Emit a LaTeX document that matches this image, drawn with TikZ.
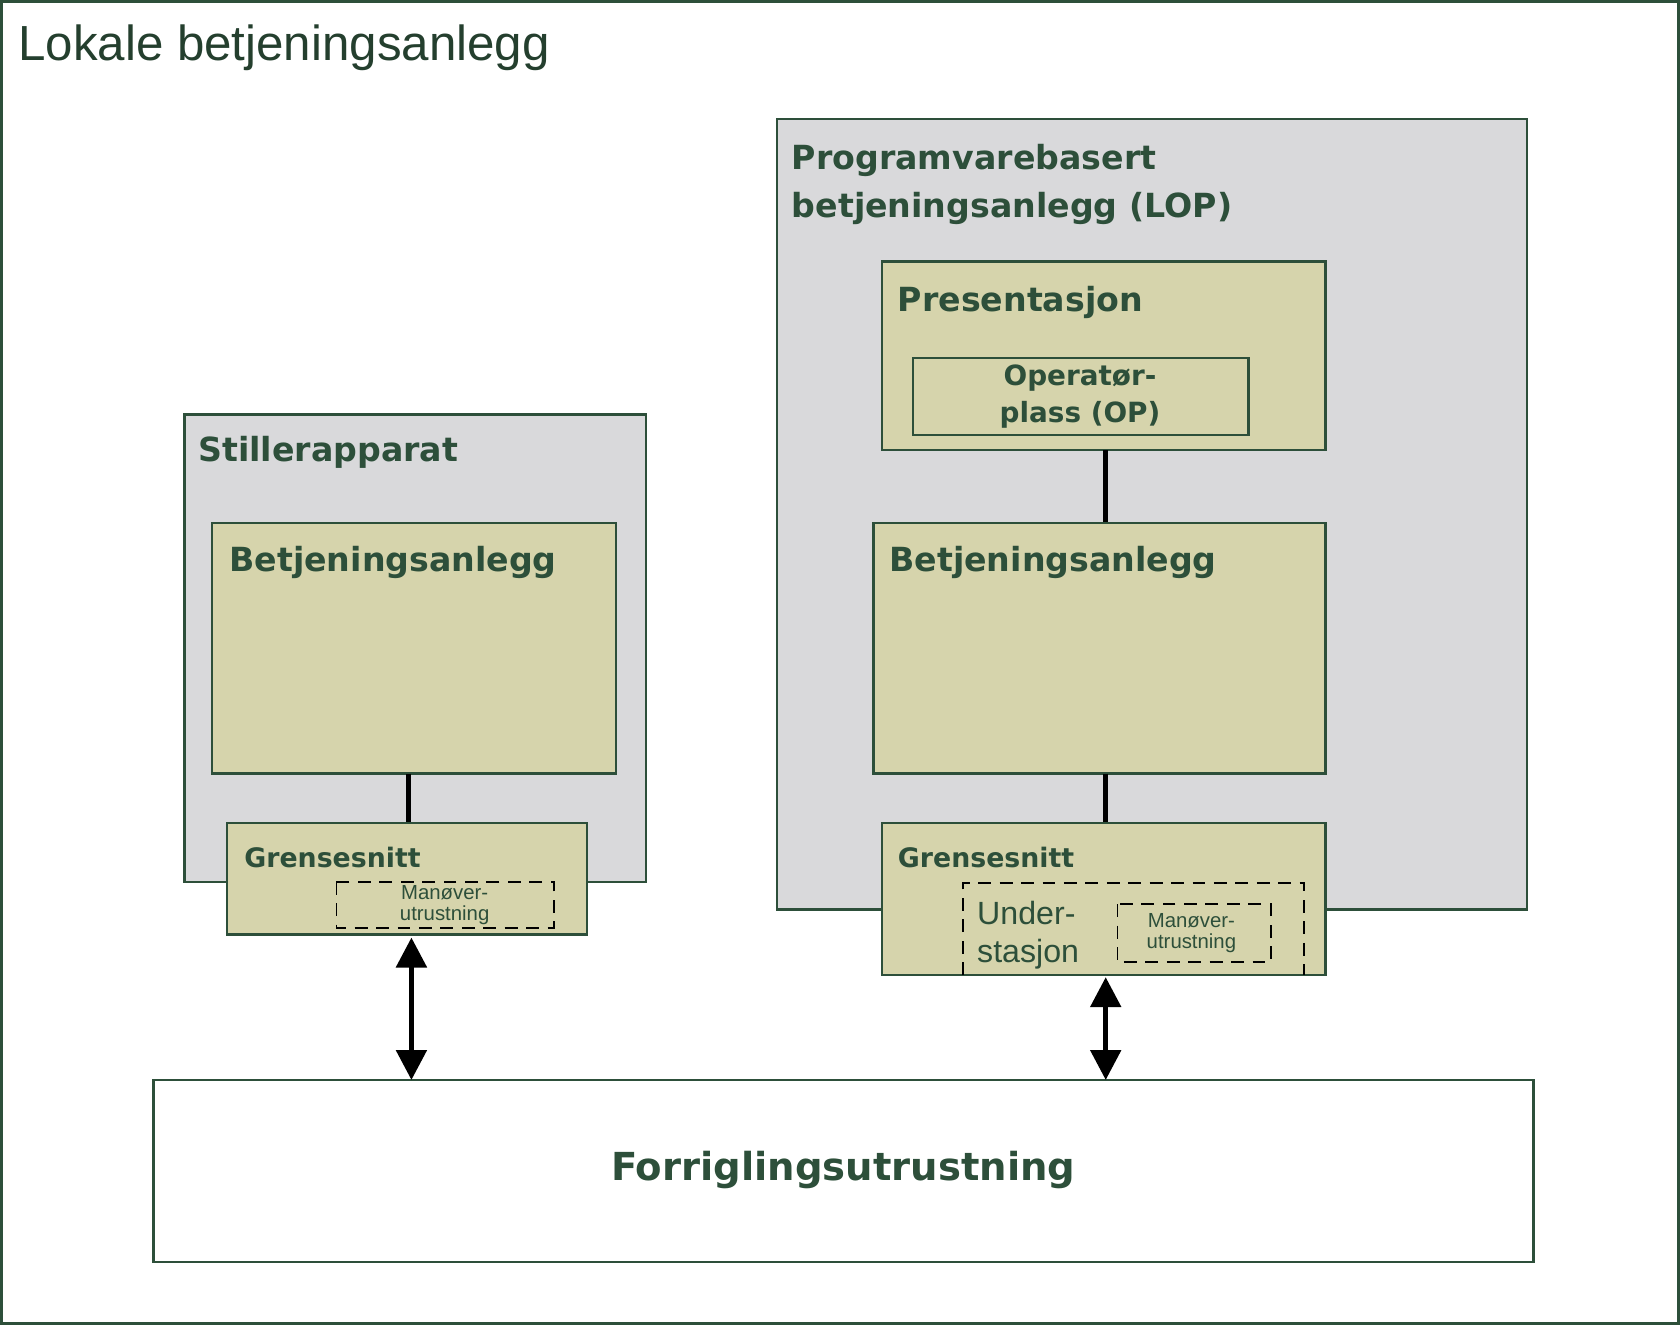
\documentclass[tikz,border=0pt]{standalone}
\usepackage{fontspec}
\setmainfont{DejaVu Sans}
\newfontfamily\arialf{Liberation Sans}
\usetikzlibrary{arrows.meta}
\definecolor{dg}{HTML}{2D4F3A}
\definecolor{gb}{HTML}{D9D9DB}
\definecolor{ol}{HTML}{D6D4AC}
\tikzset{
 box/.style={draw=dg,line width=1.2pt},
 gray/.style={box,fill=gb},
 olive/.style={box,fill=ol},
 ttl/.style={anchor=west,text=dg,font=\bfseries\fontsize{15.5}{20}\selectfont,align=left},
 dbox/.style={draw=black,dashed,dash pattern=on 6pt off 4pt,line width=0.8pt},
 small/.style={text=dg,font=\arialf\fontsize{9.5}{10}\selectfont,align=center},
 conn/.style={line width=2.5pt},
 darr/.style={line width=2.5pt,{Triangle[length=14pt,width=14pt]}-{Triangle[length=14pt,width=14pt]}}
}
\begin{document}
\begin{tikzpicture}[x=0.5pt,y=-0.5pt]
\useasboundingbox (0,0) rectangle (1568,1236);
\draw[dg,line width=1.5pt] (1,1) rectangle (1567,1235);
\node[anchor=west,text=dg!80!black,font=\arialf\fontsize{23}{26}\selectfont] (title) at (10,45) {Lokale betjeningsanlegg};
% left
\draw[gray] (172,387) rectangle (603,823);
\node[ttl] (st) at (178,422) {Stillerapparat};
\draw[olive] (198,488) rectangle (575,722);
\node[ttl] (lbt) at (207,525) {Betjeningsanlegg};
\coordinate (lbs) at (381,722);
\coordinate (lge) at (381,768);
\draw[conn] (lbs) -- (lge);
\draw[olive] (212,768) rectangle (548,872);
\node[ttl,font=\bfseries\fontsize{12.5}{15}\selectfont] (lgt) at (221,800) {Grensesnitt};
\draw[dbox] (314,823) rectangle (517,866);
\node[small] (lm) at (415,845) {Manøver-\\utrustning};
% right
\draw[gray] (725,111) rectangle (1425,849);
\node[ttl,font=\bfseries\fontsize{15.5}{22.5}\selectfont] (lop) at (732,172) {Programvarebasert\\betjeningsanlegg (LOP)};
\draw[olive] (823,244) rectangle (1237,420);
\node[ttl] (pr) at (831,282) {Presentasjon};
\draw[box,fill=ol] (852,334) rectangle (1165,406);
\node[text=dg,font=\bfseries\fontsize{13}{17.5}\selectfont,align=center] (op) at (1008,370) {Operatør-\\plass (OP)};
\draw[conn] (1032,420) -- (1032,488);
\draw[olive] (815,488) rectangle (1237,722);
\node[ttl] (rbt) at (823,525) {Betjeningsanlegg};
\draw[conn] (1032,722) -- (1032,768);
\draw[olive] (823,768) rectangle (1237,910);
\node[ttl,font=\bfseries\fontsize{12.5}{15}\selectfont] (rgt) at (831,800) {Grensesnitt};
\draw[dbox] (899,910) -- (899,824) -- (1217,824) -- (1217,910);
\node[anchor=west,text=dg,font=\arialf\fontsize{15}{18}\selectfont,align=left] (us) at (905,873) {Under-\\stasjon};
\draw[dbox] (1043,844) rectangle (1186,898);
\node[small] (rm) at (1112,871) {Manøver-\\utrustning};
% bottom
\draw[box,fill=white] (143,1008) rectangle (1431,1178);
\node[text=dg,font=\bfseries\fontsize{18}{22}\selectfont] (fr) at (787,1092) {Forriglingsutrustning};
\draw[darr] (384,875) -- (384,1008);
\draw[darr] (1032,912) -- (1032,1008);
\end{tikzpicture}
\end{document}
